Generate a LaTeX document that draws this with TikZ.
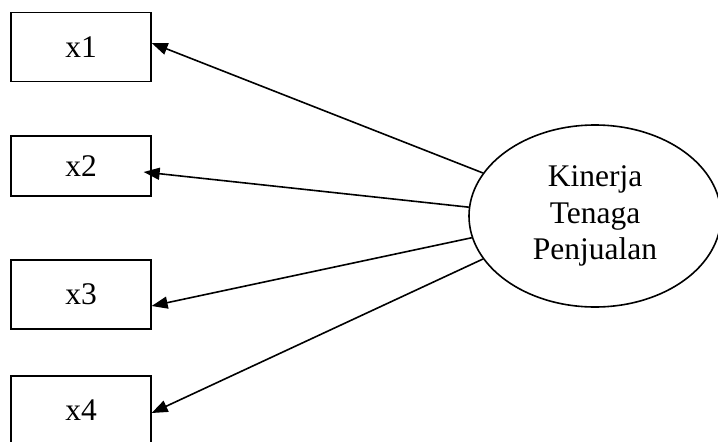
\documentclass[tikz,border=0pt]{standalone}
\usepackage{fontspec}
\setmainfont{Liberation Serif}
\usetikzlibrary{shapes.geometric,arrows.meta}
\begin{document}
\begin{tikzpicture}[x=1pt,y=-1pt,
  obsbox/.style={draw,line width=1.3pt,minimum width=140pt,inner sep=0pt,font=\fontsize{31.5}{36}\selectfont},
  latent/.style={draw,ellipse,line width=1.6pt,minimum width=252pt,minimum height=182pt,inner sep=0pt,align=center,font=\fontsize{31.5}{36.7}\selectfont},
  loading/.style={line width=1.6pt,-{Triangle[length=16pt,width=12pt]}}]
\useasboundingbox (0,0) rectangle (718,442);
\node[obsbox,minimum height=69pt] (x1) at (81,47) {x1};
\node[obsbox,minimum height=60pt] (x2) at (81,166) {x2};
\node[obsbox,minimum height=69pt] (x3) at (81,294.5) {x3};
\node[obsbox,minimum height=69pt] (x4) at (81,410.5) {x4};
\node[latent] (k) at (595,216) {Kinerja\\Tenaga\\Penjualan};
\draw[loading] (k.159) -- ([yshift=4pt]x1.east);
\draw[loading] (k.176) -- ([xshift=-8pt,yshift=-6pt]x2.east);
\draw[loading] (k.190) -- ([yshift=-11.5pt]x3.east);
\draw[loading] (k.201) -- ([yshift=-2.5pt]x4.east);
\end{tikzpicture}
\end{document}
